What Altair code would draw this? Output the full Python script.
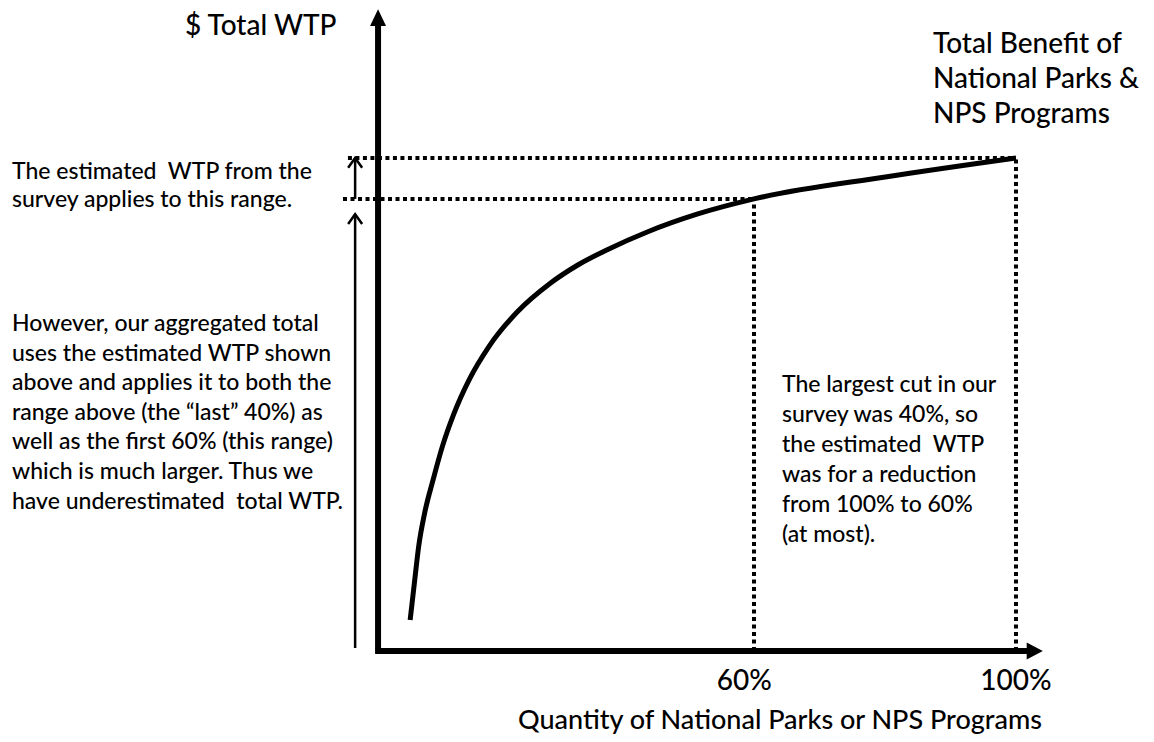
import altair as alt
import pandas as pd

# ---- curve data: quantity (% of national parks / programs) vs total WTP (index, 100 = total benefit)
QTY_PCT = [7.5, 8.2, 8.8, 9.7, 11.0, 12.4, 14.2, 16.5, 19.5, 23.8, 28.9, 33.1, 37.6, 43.7, 51.3, 60, 80.3, 100]
TOTAL_WTP = [6.3, 14.4, 21.2, 27.9, 34.7, 41.4, 48.2, 55.0, 61.7, 68.7, 74.6, 78.3, 81.4, 85.0, 88.6, 91.7, 96.2, 100]

# ---- reference levels
CUT_QTY = 60        # largest cut in survey leaves 60%
FULL_QTY = 100
CUT_WTP = 91.7      # WTP level at 60%
FULL_WTP = 100      # total benefit

# ---- tick labels
TICK_LABELS = ["60%", "100%"]

NB2 = "\u00a0 "  # visible double space
# ---- texts
Y_TITLE = "$ Total WTP"
X_TITLE = "Quantity of National Parks or NPS Programs"
CURVE_LABEL = ["Total Benefit of", "National Parks &", "NPS Programs"]
NOTE_TOP = ["The estimated" + NB2 + "WTP from the", "survey applies to this range."]
NOTE_LEFT = ["However, our aggregated total", "uses the estimated WTP shown",
             "above and applies it to both the", "range above (the \u201clast\u201d 40%) as",
             "well as the first 60% (this range)", "which is much larger. Thus we",
             "have underestimated" + NB2 + "total WTP."]
NOTE_RIGHT = ["The largest cut in our", "survey was 40%, so", "the estimated" + NB2 + "WTP",
              "was for a reduction", "from 100% to 60%", "(at most)."]

# ---- diagram frame (axis extents, in the same data units)
AXIS_ORIGIN_X = 2.6
AXIS_END_X = 101.8
ARROW_TIP_X = 104.1
AXIS_END_Y = 127.8
ARROW_TIP_Y = 130.2
SIDE_ARROW_X = -0.9

X_DOMAIN = [-53.9, 119.85]
Y_DOMAIN = [-16.84, 130.43]

FONT = "Lato"
WEIGHT = 500
INK = "#000000"

xs = alt.Scale(domain=X_DOMAIN, nice=False, zero=False)
ys = alt.Scale(domain=Y_DOMAIN, nice=False, zero=False)

curve_df = pd.DataFrame({"q": QTY_PCT, "w": TOTAL_WTP})

curve = alt.Chart(curve_df).mark_line(
    color=INK, strokeWidth=5, interpolate="monotone", strokeCap="butt"
).encode(
    x=alt.X("q:Q", scale=xs, axis=None),
    y=alt.Y("w:Q", scale=ys, axis=None),
)

dotted_df = pd.DataFrame({
    "x1": [-2.0, -2.75, CUT_QTY, FULL_QTY],
    "x2": [FULL_QTY, CUT_QTY, CUT_QTY, FULL_QTY],
    "y1": [FULL_WTP, CUT_WTP, 0, 0],
    "y2": [FULL_WTP, CUT_WTP, CUT_WTP, FULL_WTP],
})
dotted = alt.Chart(dotted_df).mark_rule(
    color=INK, strokeWidth=4, strokeDash=[4, 3.5]
).encode(
    x=alt.X("x1:Q", scale=xs, axis=None), x2="x2:Q",
    y=alt.Y("y1:Q", scale=ys, axis=None), y2="y2:Q",
)

axes_df = pd.DataFrame({
    "x1": [AXIS_ORIGIN_X - 0.4, AXIS_ORIGIN_X],
    "x2": [AXIS_END_X, AXIS_ORIGIN_X],
    "y1": [0, -0.55],
    "y2": [0, AXIS_END_Y],
})
axes = alt.Chart(axes_df).mark_rule(color=INK, strokeWidth=6).encode(
    x=alt.X("x1:Q", scale=xs, axis=None), x2="x2:Q",
    y=alt.Y("y1:Q", scale=ys, axis=None), y2="y2:Q",
)

up_head = alt.Chart(pd.DataFrame({"x": [AXIS_ORIGIN_X], "y": [ARROW_TIP_Y]})).mark_point(
    shape="M -1 2.1 L 0 0 L 1 2.1 Z", filled=True, size=256, color=INK, opacity=1
).encode(x=alt.X("x:Q", scale=xs, axis=None), y=alt.Y("y:Q", scale=ys, axis=None))

right_head = alt.Chart(pd.DataFrame({"x": [ARROW_TIP_X], "y": [0]})).mark_point(
    shape="M -1.9 -1 L 0 0 L -1.9 1 Z", filled=True, size=289, color=INK, opacity=1
).encode(x=alt.X("x:Q", scale=xs, axis=None), y=alt.Y("y:Q", scale=ys, axis=None))

side_df = pd.DataFrame({
    "x": [SIDE_ARROW_X, SIDE_ARROW_X],
    "y1": [CUT_WTP, 0.6],
    "y2": [FULL_WTP, 88.6],
})
side_stems = alt.Chart(side_df).mark_rule(color=INK, strokeWidth=2.5).encode(
    x=alt.X("x:Q", scale=xs, axis=None),
    y=alt.Y("y1:Q", scale=ys, axis=None), y2="y2:Q",
)
side_heads = alt.Chart(side_df).mark_point(
    shape="M -1 1.4 L 0 0 L 1 1.4", filled=False, size=196, color=INK,
    strokeWidth=2.5, opacity=1
).encode(
    x=alt.X("x:Q", scale=xs, axis=None),
    y=alt.Y("y2:Q", scale=ys, axis=None),
)

tick_df = pd.DataFrame({"q": [CUT_QTY - 1.5, FULL_QTY], "label": TICK_LABELS})
ticks = alt.Chart(tick_df).mark_text(
    font=FONT, fontSize=28, fontWeight=WEIGHT, color=INK, align="center", baseline="alphabetic"
).encode(
    x=alt.X("q:Q", scale=xs, axis=None),
    y=alt.value(682),
    text="label:N",
)

one = alt.Data(values=[{}])


def label(lines, px, py, size, lh, align="left"):
    return alt.Chart(one).mark_text(
        text=lines, font=FONT, fontSize=size, fontWeight=WEIGHT, lineHeight=lh, color=INK,
        align=align, baseline="alphabetic"
    ).encode(x=alt.value(px - 8), y=alt.value(py - 8))


texts = [
    label([Y_TITLE], 185, 35, 28, 32),
    label(CURVE_LABEL, 933, 53, 28, 35),
    label(NOTE_TOP, 12, 179, 23, 28),
    label(NOTE_LEFT, 12, 331, 23, 29.6),
    label(NOTE_RIGHT, 782, 392, 23, 30),
    label([X_TITLE], 780, 729, 27, 30, align="center"),
]

chart = alt.layer(
    dotted, axes, up_head, right_head, side_stems, side_heads, curve, ticks, *texts
).properties(
    width=1138, height=726,
    autosize=alt.AutoSizeParams(type="fit", contains="padding"),
    padding=0,
    background="white",
).configure_view(stroke=None)

chart.save("out.html", embed_options={"renderer": "svg", "actions": False})
